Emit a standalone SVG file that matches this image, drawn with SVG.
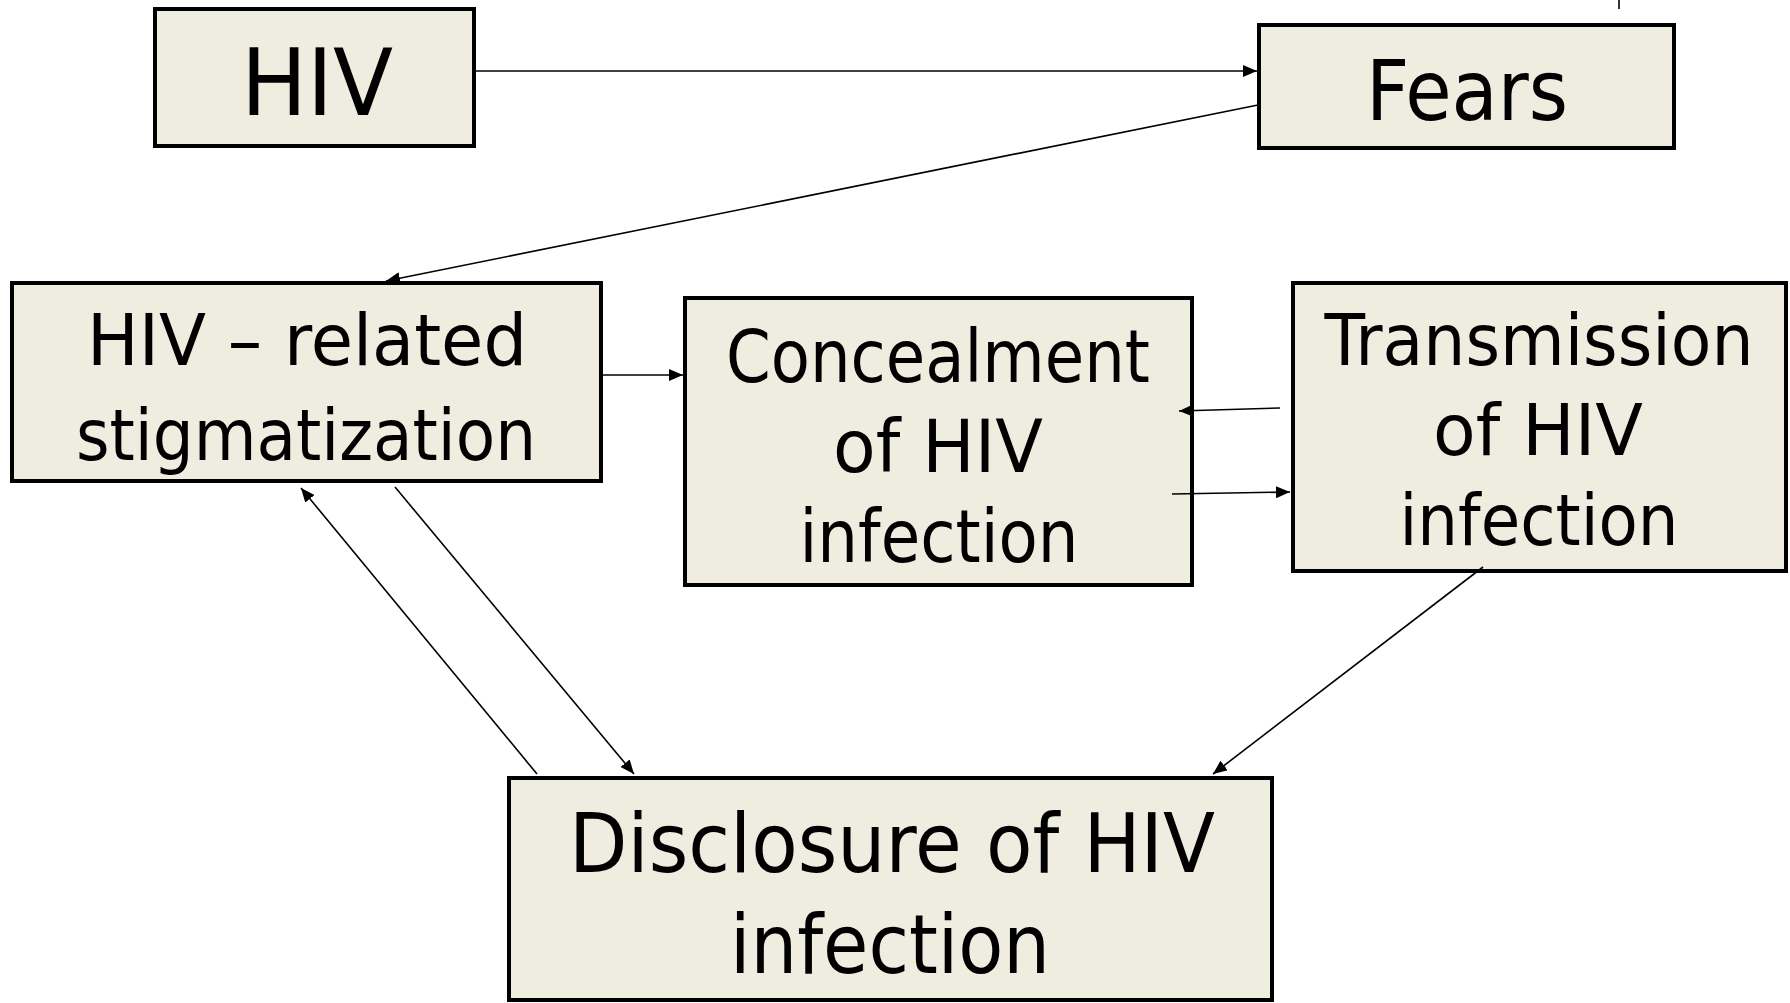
<svg xmlns="http://www.w3.org/2000/svg" width="1790" height="1003" viewBox="0 0 1790 1003">
<style>
.box{fill:#EFEDE0;stroke:#000;stroke-width:4}
.t{font-family:"DejaVu Sans","Liberation Sans",sans-serif;fill:#000;text-anchor:middle}
.c{stroke:#000;stroke-width:1.6;fill:none}
.a{marker-end:url(#ah)}
</style>
<defs>
<marker id="ah" markerUnits="userSpaceOnUse" markerWidth="14" markerHeight="12" refX="14" refY="6" orient="auto">
<path d="M0,0 L14,6 L0,12 z" fill="#000"/>
</marker>
</defs>
<rect width="1790" height="1003" fill="#fff"/>
<g id="hiv">
<rect class="box" x="155" y="9" width="319" height="137"/>
<text class="t" x="317" y="115" font-size="93" textLength="152" lengthAdjust="spacingAndGlyphs">HIV</text>
</g>
<g id="fears">
<rect class="box" x="1259" y="25" width="415" height="123"/>
<text class="t" x="1467" y="120" font-size="84" textLength="202" lengthAdjust="spacingAndGlyphs">Fears</text>
</g>
<g id="stigmatization">
<rect class="box" x="12" y="283" width="589" height="198"/>
<text class="t" x="307" y="365" font-size="71" textLength="440" lengthAdjust="spacingAndGlyphs">HIV – related</text>
<text class="t" x="306" y="460" font-size="71" textLength="460" lengthAdjust="spacingAndGlyphs">stigmatization</text>
</g>
<g id="concealment">
<rect class="box" x="685" y="298" width="507" height="287"/>
<text class="t" x="938" y="382" font-size="73" textLength="424" lengthAdjust="spacingAndGlyphs">Concealment</text>
<text class="t" x="938" y="472" font-size="73" textLength="210" lengthAdjust="spacingAndGlyphs">of HIV</text>
<text class="t" x="939" y="562" font-size="73" textLength="279" lengthAdjust="spacingAndGlyphs">infection</text>
</g>
<g id="transmission">
<rect class="box" x="1293" y="283" width="493" height="288"/>
<text class="t" x="1539" y="365" font-size="71" textLength="429" lengthAdjust="spacingAndGlyphs">Transmission</text>
<text class="t" x="1538" y="455" font-size="71" textLength="210" lengthAdjust="spacingAndGlyphs">of HIV</text>
<text class="t" x="1539" y="545" font-size="71" textLength="279" lengthAdjust="spacingAndGlyphs">infection</text>
</g>
<g id="disclosure">
<rect class="box" x="509" y="778" width="763" height="222"/>
<text class="t" x="892" y="872" font-size="82" textLength="646" lengthAdjust="spacingAndGlyphs">Disclosure of HIV</text>
<text class="t" x="890" y="973" font-size="82" textLength="320" lengthAdjust="spacingAndGlyphs">infection</text>
</g>
<g id="connectors">
<line class="c a" x1="476" y1="71" x2="1257" y2="71"/>
<line class="c a" x1="1258" y1="105" x2="386" y2="281"/>
<line class="c a" x1="603" y1="375" x2="683" y2="375"/>
<line class="c a" x1="1280" y1="408" x2="1179" y2="411"/>
<line class="c a" x1="1172" y1="494" x2="1290" y2="492"/>
<line class="c a" x1="537" y1="774" x2="301" y2="488"/>
<line class="c a" x1="395" y1="487" x2="634" y2="774"/>
<line class="c a" x1="1483" y1="567" x2="1213" y2="774"/>
<line class="c" x1="1619" y1="0" x2="1619" y2="9"/>
</g>
</svg>
